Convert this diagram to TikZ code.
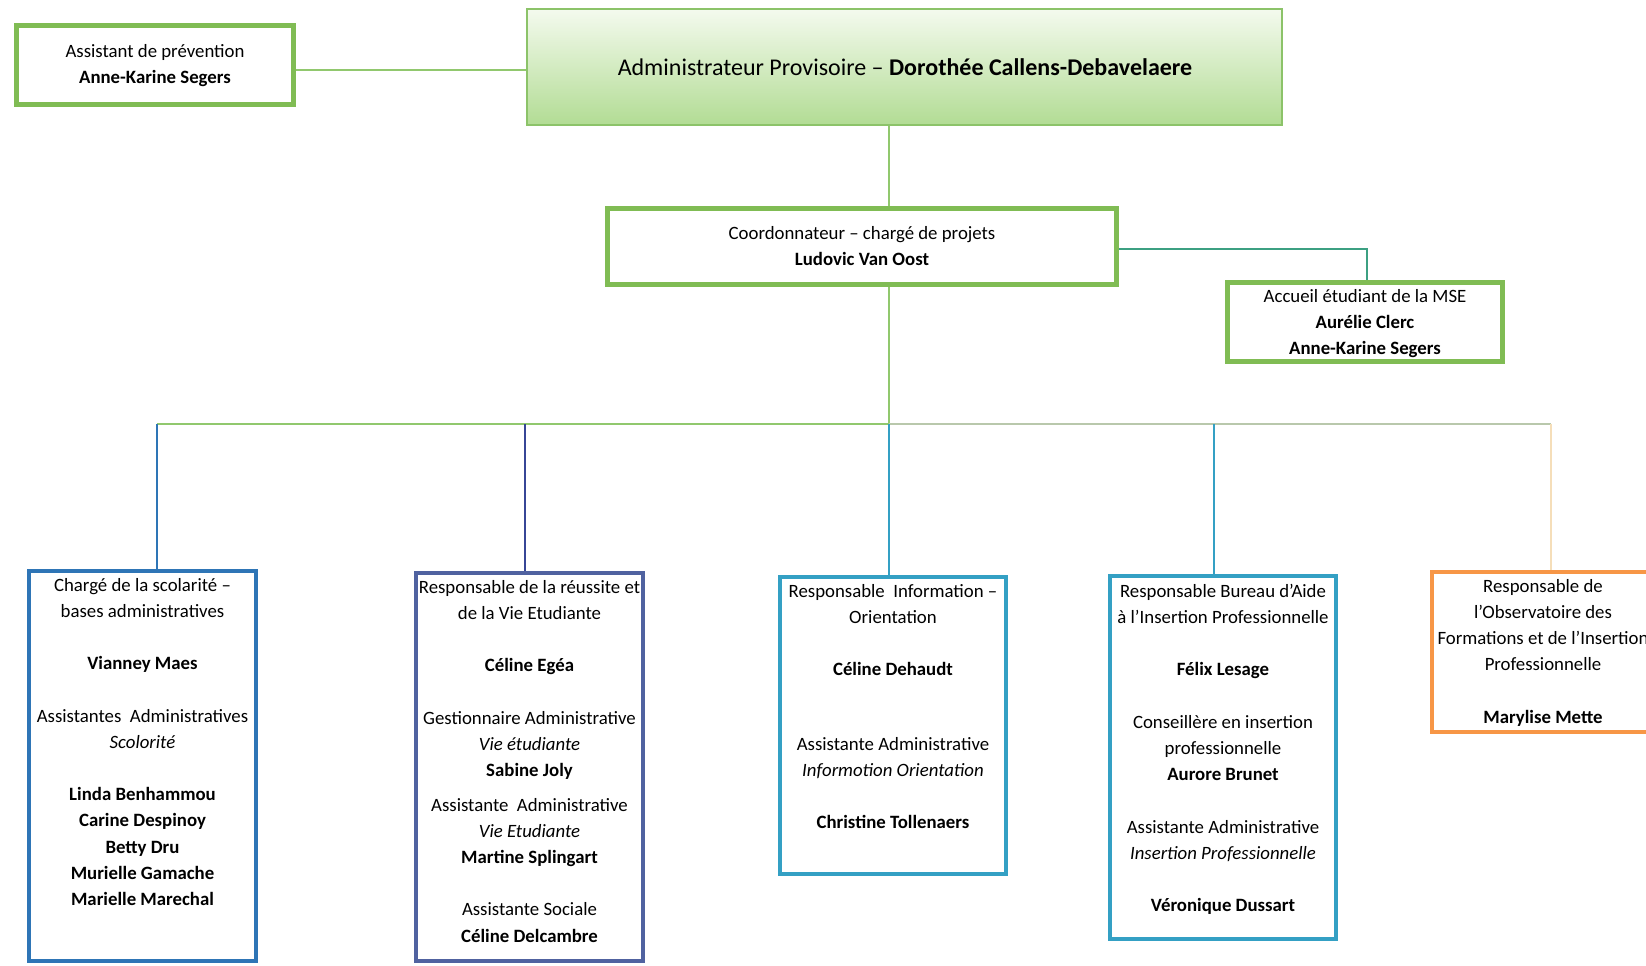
\documentclass[tikz,border=0pt]{standalone}
\usepackage{fontspec}
\setmainfont{Carlito}
\definecolor{grn}{RGB}{128,188,84}
\definecolor{admTop}{RGB}{244,250,238}
\definecolor{admBot}{RGB}{178,220,148}
\definecolor{admLine}{RGB}{140,195,105}
\definecolor{lnGreen}{RGB}{145,200,110}
\definecolor{lnGray}{RGB}{185,200,172}
\definecolor{lnTeal}{RGB}{60,160,130}
\definecolor{cBlue}{RGB}{46,117,182}
\definecolor{cSlate}{RGB}{80,98,160}
\definecolor{cNavy}{RGB}{55,70,150}
\definecolor{cCyan}{RGB}{52,160,196}
\definecolor{cOrange}{RGB}{247,150,70}
\definecolor{cBeige}{RGB}{245,222,185}
\begin{document}
\begin{tikzpicture}[x=1pt,y=-1pt,
  gbox/.style={draw=grn,line width=4.5pt,fill=white,inner sep=0pt},
  bbox/.style={line width=4pt,fill=white,inner sep=0pt},
  txt/.style={align=center,inner sep=0pt,anchor=north,font=\fontsize{18.8}{26.2}\selectfont},
  conn/.style={line width=1.5pt}]
\clip (0,0) rectangle (1646,966);
\fill[white] (0,0) rectangle (1646,966);
% top boxes
\node[draw=admLine,line width=2pt,top color=admTop,bottom color=admBot,minimum width=755pt,minimum height=116pt,inner sep=0pt] (adm) at (904.5,67) {};
\node[inner sep=0pt,font=\fontsize{24}{28}\selectfont] (admt) at (905,67) {Administrateur Provisoire -- \textbf{Dorothée Callens-Debavelaere}};
\node[gbox,minimum width=277pt,minimum height=79pt] (ass) at (155,65) {};
\node[txt] (asst) at (155,39) {\strut Assistant de prévention\\ \textbf{Anne-Karine Segers}};
\node[gbox,minimum width=509pt,minimum height=76pt] (coo) at (862,246.5) {};
\node[txt] (coot) at (862,221) {\strut Coordonnateur -- chargé de projets\\ \textbf{Ludovic Van Oost}};
\node[gbox,minimum width=275pt,minimum height=79pt] (acc) at (1365,322) {};
\node[txt] (acct) at (1365,284) {\strut Accueil étudiant de la MSE\\ \textbf{Aurélie Clerc}\\ \textbf{Anne-Karine Segers}};
% bottom boxes
\node[bbox,draw=cBlue,minimum width=227pt,minimum height=390pt] (b1) at (142.5,766) {};
\node[txt] (t1) at (142.5,572.5) {\strut Chargé de la scolarité --\\ bases administratives\\[26.2pt]
 \textbf{Vianney Maes}\\[26.2pt] Assistantes~~Administratives\\ \textit{Scolorité}\\[26.2pt]
 \textbf{Linda Benhammou}\\ \textbf{Carine Despinoy}\\ \textbf{Betty Dru}\\ \textbf{Murielle Gamache}\\ \textbf{Marielle Marechal}};
\node[bbox,draw=cSlate,minimum width=227pt,minimum height=388pt] (b2) at (529.5,767) {};
\node[txt] (t2) at (529.5,574.5) {\strut Responsable de la réussite et\\ de la Vie Etudiante\\[26.2pt]
 \textbf{Céline Egéa}\\[26.2pt] Gestionnaire Administrative\\ \textit{Vie étudiante}\\ \textbf{Sabine Joly}\\[8.4pt]
 Assistante~~Administrative\\ \textit{Vie Etudiante}\\ \textbf{Martine Splingart}\\[26.2pt]
 Assistante Sociale\\ \textbf{Céline Delcambre}};
\node[bbox,draw=cCyan,minimum width=226pt,minimum height=297pt] (b3) at (893,725.5) {};
\node[txt] (t3) at (893,578.8) {\strut Responsable~~Information --\\ Orientation\\[26.2pt]
 \textbf{Céline Dehaudt}\\[48pt] Assistante Administrative\\ \textit{Informotion Orientation}\\[26.2pt]
 \textbf{Christine Tollenaers}};
\node[bbox,draw=cCyan,minimum width=226pt,minimum height=363pt] (b4) at (1223,757.5) {};
\node[txt] (t4) at (1223,578.8) {\strut Responsable Bureau d’Aide\\ à l’Insertion Professionnelle\\[26.2pt]
 \textbf{Félix Lesage}\\[26.2pt] Conseillère en insertion\\ professionnelle\\ \textbf{Aurore Brunet}\\[26.2pt]
 Assistante Administrative\\ \textit{Insertion Professionnelle}\\[26.2pt] \textbf{Véronique Dussart}};
\node[bbox,draw=cOrange,minimum width=222pt,minimum height=160pt] (b5) at (1543,652) {};
\node[txt] (t5) at (1543,573.5) {\strut Responsable de\\ l’Observatoire des\\ Formations et de l’Insertion\\ Professionnelle\\[26.2pt]
 \textbf{Marylise Mette}};
% connectors
\coordinate (busL) at (157,424);
\coordinate (busM) at (889,424);
\coordinate (busR) at (1551,424);
\coordinate (d2) at (525,424);
\coordinate (d4) at (1214,424);
\coordinate (acK) at (1367,249);
\draw[conn,draw=lnGreen] (ass.east |- 0,70) -- (adm.west |- 0,70);
\draw[conn,draw=lnGreen] (adm.south -| busM) -- (coo.north -| busM);
\draw[conn,draw=lnGreen] (coo.south -| busM) -- (busM);
\draw[conn,draw=lnGreen] (busL) -- (busM);
\draw[conn,draw=lnGray] (busM) -- (busR);
\draw[conn,draw=lnTeal] (coo.east |- acK) -- (acK) -- (acc.north -| acK);
\draw[conn,draw=cBlue] (busL) -- (b1.north -| busL);
\draw[conn,draw=cNavy] (d2) -- (b2.north -| d2);
\draw[conn,draw=cCyan] (busM) -- (b3.north -| busM);
\draw[conn,draw=cCyan] (d4) -- (b4.north -| d4);
\draw[conn,draw=cBeige] (busR) -- (b5.north -| busR);
\end{tikzpicture}
\end{document}
